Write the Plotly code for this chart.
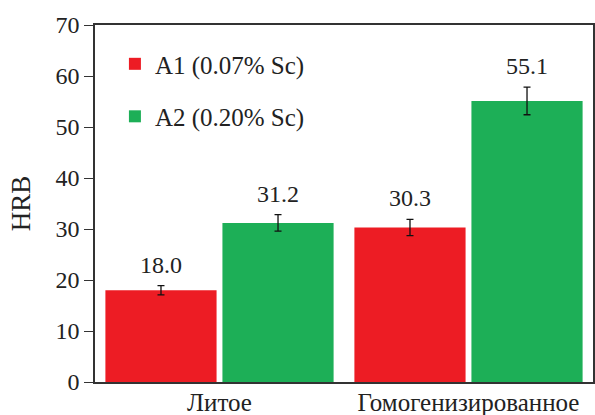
import plotly.graph_objects as go

categories = ["Литое", "Гомогенизированное"]
series_names = ["A1 (0.07% Sc)", "A2 (0.20% Sc)"]
a1_values = [18.0, 30.3]
a2_values = [31.2, 55.1]
a1_errors = [0.9, 1.6]
a2_errors = [1.6, 2.7]
colors = ["#ED1C24", "#1DAF57"]
y_ticks = [0, 10, 20, 30, 40, 50, 60, 70]

FONT = "Liberation Serif"
TXT = "#222222"
bargap = 0.06

fig = go.Figure()
for name, vals, errs, col in zip(series_names, [a1_values, a2_values],
                                 [a1_errors, a2_errors], colors):
    fig.add_trace(go.Bar(
        x=categories, y=vals, name=name, legendgroup=name,
        marker=dict(color=col, line=dict(width=0)),
        error_y=dict(type="data", array=errs, visible=True,
                     color="#111111", thickness=1.3, width=3.5),
    ))

slot = (1 - bargap) / 2
for si, (vals, errs) in enumerate([(a1_values, a1_errors), (a2_values, a2_errors)]):
    off = -slot / 2 if si == 0 else slot / 2
    for ci, (v, e) in enumerate(zip(vals, errs)):
        fig.add_annotation(
            x=ci + off, y=v + e, xref="x", yref="y",
            text=f"{v:.1f}", showarrow=False, yanchor="bottom", yshift=6,
            font=dict(family=FONT, size=24, color=TXT),
        )

fig.update_layout(
    width=595, height=415,
    margin=dict(l=95, r=2, t=25, b=33),
    paper_bgcolor="white", plot_bgcolor="white",
    barmode="group", bargap=bargap, bargroupgap=0.05,
    font=dict(family=FONT, size=24, color=TXT),
    showlegend=True,
    legend=dict(x=0.04, y=0.955, xanchor="left", yanchor="top",
                bgcolor="rgba(0,0,0,0)", tracegroupgap=17,
                font=dict(family=FONT, size=25, color=TXT)),
    xaxis=dict(showline=True, linecolor="#333333", linewidth=1.5, mirror=True,
               ticks="", showgrid=False, range=[-0.5, 1.5], automargin=False,
               ticklabelstandoff=-3,
               tickfont=dict(family=FONT, size=25, color=TXT)),
    yaxis=dict(range=[0, 70], tickvals=y_ticks, showline=True,
               linecolor="#333333", linewidth=1.5, mirror=True,
               ticks="outside", ticklen=9, tickwidth=1.3, tickcolor="#333333",
               showgrid=False, zeroline=False, automargin=False,
               tickfont=dict(family=FONT, size=24, color=TXT),
               title=dict(text="HRB", standoff=17,
                          font=dict(family=FONT, size=27, color=TXT))),
)

fig.write_html("out.html", config={"displayModeBar": False},
               post_script="document.body.style.margin='0px';document.body.style.padding='0px';")
